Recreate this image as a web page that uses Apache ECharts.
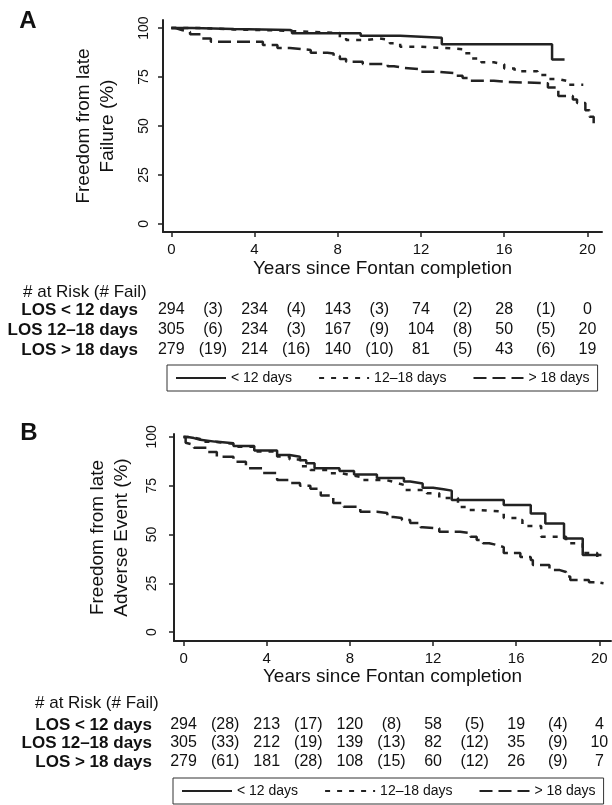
<!DOCTYPE html>
<html>
<head>
<meta charset="utf-8">
<script src="https://cdn.jsdelivr.net/npm/echarts@6/dist/echarts.min.js"></script>
<style>
  html, body { margin: 0; padding: 0; background: #fff; }
  #chart { width: 612px; height: 805px; }
</style>
</head>
<body>
<div id="chart"></div>
<script>
// ---- data ----
const groups = ['< 12 days', '12–18 days', '> 18 days'];
const rowLabels = ['LOS < 12 days', 'LOS 12–18 days', 'LOS > 18 days'];
const years = [0, 4, 8, 12, 16, 20];
const failYears = [2, 6, 10, 14, 18];
const yTicks = [0, 25, 50, 75, 100];

// panel A: freedom from late failure (years, %)
const aLt12 = [[0,100],[1.0,99.5],[3.0,99.0],[5.7,98.6],[5.8,97.3],[9.1,96.0],[11.0,95.1],[13.0,91.7],[18.3,84.0],[18.9,84.0]];
const a1218 = [[0,100],[1.5,99.3],[3.0,98.8],[5.0,98.3],[6.0,97.5],[8.1,95.2],[8.4,93.9],[9.4,94.7],[10.0,93.9],[10.5,92.2],[11.0,90.5],[11.8,89.6],[13.5,89.1],[14.1,87.1],[14.4,84.5],[14.9,82.5],[15.5,81.5],[16.0,79.4],[16.5,78.0],[17.6,76.0],[18.1,74.0],[18.6,73.0],[19.0,71.0],[19.8,71.0]];
const aGt18 = [[0,100],[0.2,99],[0.5,98],[0.9,96.8],[1.4,94.7],[1.9,93],[3.3,93],[4.4,91.3],[5.1,89.8],[5.7,88.8],[6.7,87.4],[7.5,87],[7.8,85.7],[8.1,84.2],[8.4,82.8],[9.2,81.6],[10.4,80.5],[10.7,79.6],[11.2,79],[11.9,77.7],[12.8,76.9],[13.7,75.6],[14.0,74.5],[14.3,73.1],[15.5,72.5],[16.1,71.8],[18.1,69.7],[18.6,65.3],[19.3,63.5],[19.5,61.7],[19.9,58],[20.1,54.7],[20.3,51.4]];

// panel B: freedom from late adverse event (years, %)
const bLt12 = [[0,100],[0.2,99.4],[0.5,98.5],[0.8,97.6],[1.5,96.8],[2.4,95.4],[3.4,93],[4.5,90.8],[5.1,89.9],[5.6,88],[5.9,86.5],[6.3,84],[7.5,82.5],[8.2,80.8],[9.3,79],[10.6,77.2],[10.9,76.2],[11.5,74],[12.0,73.2],[12.5,72.5],[12.9,67.7],[15.4,65.1],[16.7,60.8],[17.4,55.7],[18.3,48],[19.2,39.5],[20.1,39.5]];
const b1218 = [[0,100],[0.3,99],[0.8,97.5],[1.5,96.5],[2.4,95],[3.4,92.5],[4.5,90],[5.1,88.5],[5.6,85],[6.1,83.1],[7.0,81.4],[7.6,80.5],[8.0,79.6],[8.5,78],[9.7,77],[10.1,76],[10.4,75.4],[10.6,72.8],[11.7,71.2],[12.3,68.7],[13.2,64.1],[13.7,62.6],[14.2,61.7],[15.4,58.5],[16.1,57.4],[16.3,54.4],[17.2,48.9],[18.4,45.6],[19.2,40.5],[19.9,37],[20.1,37]];
const bGt18 = [[0,100],[0.1,97],[0.15,96],[0.5,94.4],[1.1,92.3],[1.6,89.9],[2.4,87.3],[3.0,84],[3.8,81.5],[4.5,78],[5.1,76.4],[5.6,75],[6.1,73.5],[6.6,70],[7.2,66.2],[7.7,64.3],[8.5,61.7],[9.3,61],[9.8,59],[10.1,58.5],[10.5,57.4],[10.9,55.9],[11.4,53.8],[11.5,53.2],[12.3,51.4],[13.3,50.8],[13.8,48.9],[14.1,47.2],[14.4,45.6],[14.7,44.6],[15.1,43.6],[15.4,40.5],[16.2,38.5],[16.7,37],[16.8,34.4],[17.6,31.8],[18.1,30.8],[18.4,28.5],[18.6,26.7],[19.5,25.6],[19.9,25.1],[20.2,25.1]];

// numbers at risk / failures
const riskA = [[294,234,143,74,28,0],[305,234,167,104,50,20],[279,214,140,81,43,19]];
const failA = [[3,4,3,2,1],[6,3,9,8,5],[19,16,10,5,6]];
const riskB = [[294,213,120,58,19,4],[305,212,139,82,35,10],[279,181,108,60,26,7]];
const failB = [[28,17,8,5,4],[33,19,13,12,9],[61,28,15,12,9]];

// ---- styles ----
const FONT = '"Liberation Sans", Arial, sans-serif';
const INK = '#222';
const lineTypes = ['solid', [5, 7], [13, 6]];

const chart = echarts.init(document.getElementById('chart'));

function xAxis(gridIndex, min, max, gap) {
  return {
    gridIndex: gridIndex, type: 'value', min: min, max: max,
    axisLine: { onZero: false, lineStyle: { color: INK, width: 2 } },
    axisTick: { customValues: years, length: 5, lineStyle: { color: INK, width: 1.5 } },
    axisLabel: { customValues: years, fontSize: 15, color: '#111', fontFamily: FONT, margin: 10 },
    splitLine: { show: false },
    name: 'Years since Fontan completion', nameLocation: 'middle', nameGap: gap,
    nameTextStyle: { fontSize: 19, color: '#111', fontFamily: FONT }
  };
}
function yAxis(gridIndex, min, max, name, gap, labelMargin) {
  return {
    gridIndex: gridIndex, type: 'value', min: min, max: max,
    axisLine: { onZero: false, lineStyle: { color: INK, width: 2 } },
    axisTick: { customValues: yTicks, length: 5, lineStyle: { color: INK, width: 1.5 } },
    axisLabel: { customValues: yTicks, rotate: 90, fontSize: 14, color: '#111',
      fontFamily: '"Liberation Sans Narrow", ' + FONT, margin: labelMargin },
    splitLine: { show: false },
    name: name, nameLocation: 'middle', nameGap: gap, nameRotate: 90,
    nameTextStyle: { fontSize: 19, lineHeight: 24, color: '#111', fontFamily: FONT, align: 'center' }
  };
}
function curve(name, data, k, idx) {
  return {
    name: name, type: 'line', step: 'end', data: data,
    xAxisIndex: idx, yAxisIndex: idx, symbol: 'none', silent: true,
    lineStyle: { color: INK, width: 2.5, type: lineTypes[k] },
    itemStyle: { color: INK }
  };
}
function legend(left, top) {
  return {
    left: left, top: top, orient: 'horizontal', data: groups,
    itemWidth: 50, itemHeight: 14, itemGap: 26,
    padding: [6, 8], borderColor: '#333', borderWidth: 1,
    itemStyle: { opacity: 0 },
    textStyle: { fontSize: 14, color: '#111', fontFamily: FONT },
    selectedMode: false
  };
}

chart.setOption({
  animation: false,
  backgroundColor: '#fff',
  grid: [
    { left: 163, top: 20, width: 439, height: 212 },
    { left: 174, top: 434, width: 437, height: 207 }
  ],
  xAxis: [xAxis(0, -0.4, 20.7, 27), xAxis(1, -0.46, 20.56, 25)],
  yAxis: [
    yAxis(0, -4.1, 104.1, 'Freedom from late\nFailure (%)', 43, 12),
    yAxis(1, -4.5, 101.5, 'Freedom from late\nAdverse Event (%)', 40, 15)
  ],
  legend: [legend(167, 365), legend(173, 778)],
  series: [
    curve(groups[0], aLt12, 0, 0), curve(groups[1], a1218, 1, 0), curve(groups[2], aGt18, 2, 0),
    curve(groups[0], bLt12, 0, 1), curve(groups[1], b1218, 1, 1), curve(groups[2], bGt18, 2, 1)
  ]
});

// panel letters + risk tables
function txt(x, y, text, opt) {
  return {
    type: 'text', x: x, y: y, silent: true,
    style: Object.assign({ text: text, fill: '#111', fontFamily: FONT, fontSize: 16,
      align: 'center', verticalAlign: 'middle' }, opt || {})
  };
}
function table(axisIdx, headerX, headerY, labelRight, rowY, risk, fail) {
  const els = [txt(headerX, headerY, '# at Risk (# Fail)', { align: 'left', fontSize: 17 })];
  rowLabels.forEach(function (lab, r) {
    els.push(txt(labelRight, rowY[r], lab, { align: 'right', fontSize: 17, fontWeight: 'bold' }));
    years.forEach(function (yr, i) {
      const px = chart.convertToPixel({ xAxisIndex: axisIdx }, yr);
      els.push(txt(px, rowY[r], String(risk[r][i])));
    });
    failYears.forEach(function (yr, i) {
      const px = chart.convertToPixel({ xAxisIndex: axisIdx }, yr);
      els.push(txt(px, rowY[r], '(' + fail[r][i] + ')'));
    });
  });
  return els;
}

const elements = []
  .concat([txt(28, 21, 'A', { fontSize: 24, fontWeight: 'bold' }), txt(29, 433, 'B', { fontSize: 24, fontWeight: 'bold' })])
  .concat(table(0, 23, 292, 138, [310, 330, 350], riskA, failA))
  .concat(table(1, 35, 703, 152, [725, 743, 762], riskB, failB));

chart.setOption({ graphic: elements });
</script>
</body>
</html>
